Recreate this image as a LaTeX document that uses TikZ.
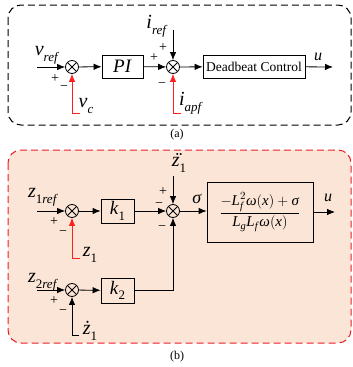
\documentclass[tikz,border=0pt]{standalone}
\usepackage{amsmath}
\usepackage{fontspec}
\setmainfont{Liberation Serif}
\usetikzlibrary{arrows.meta}
\definecolor{peach}{RGB}{251,229,214}
\definecolor{fbred}{RGB}{255,30,30}
\definecolor{bred}{RGB}{235,30,40}
\newcommand{\ti}[1]{\text{\textit{#1}}}
\newcommand{\vsub}[2]{\textit{#1}\raisebox{-0.3em}{\fontsize{13}{13}\selectfont\textit{#2}}}
\newcommand{\vsubr}[2]{\textit{#1}\raisebox{-0.3em}{\fontsize{13}{13}\selectfont #2}}
\newcommand{\zdd}{\makebox[0pt][l]{\hspace{0.12em}\textit{\char"A8}}\textit{z}}
\begin{document}
\begin{tikzpicture}[x=1pt,y=-1pt,
  sumnode/.style={circle,draw,line width=0.8pt,minimum size=13pt,inner sep=0pt,
    path picture={\draw[line width=0.8pt] (path picture bounding box.south west)--(path picture bounding box.north east)
      (path picture bounding box.north west)--(path picture bounding box.south east);}},
  blk/.style={draw,line width=0.8pt,inner sep=0pt,font=\fontsize{13.5}{16}\selectfont},
  arr/.style={-{Latex[length=8pt,width=6.5pt]},line width=0.8pt},
  fb/.style={arr,draw=fbred,color=fbred},
  sg/.style={font=\fontsize{14}{14}\selectfont,inner sep=0pt},
  vl/.style={font=\fontsize{20}{20}\selectfont,inner sep=0pt},
  captxt/.style={font=\fontsize{12}{12}\selectfont,inner sep=0pt}
]
\useasboundingbox (0,0) rectangle (353,367);
% panel (a)
\draw[line width=1pt,dash pattern=on 7pt off 4pt,rounded corners=13pt] (8,5) rectangle (351,125);
\node[captxt] (capa) at (177,135) {(a)};
\node[sumnode] (s1) at (72,67) {};
\node[sumnode] (s2) at (173,67) {};
\node[blk,minimum width=41pt,minimum height=23pt,font=\fontsize{19}{19}\selectfont] (pi) at (122.5,66.5) {\textit{PI}};
\node[blk,minimum width=102pt,minimum height=23pt] (db) at (254,66.5) {Deadbeat Control};
\coordinate (vin) at (37,67);
\coordinate (iin) at (173,30);
\coordinate (uout) at (333,67);
\coordinate (vc1) at (72,113);
\coordinate (vc2) at (80,113);
\coordinate (ia1) at (173,113);
\coordinate (ia2) at (181,113);
\draw[arr] (vin) -- (s1);
\draw[arr] (s1) -- (pi);
\draw[arr] (pi) -- (s2);
\draw[arr] (iin) -- (s2);
\draw[arr] (s2) -- (db);
\draw[arr] (db) -- (uout);
\draw[fb] (vc2) -- (vc1) -- (s1);
\draw[fb] (ia2) -- (ia1) -- (s2);
\node[vl] (lvref) at (47,55) {\vsub{v}{ref}};
\node[vl] (liref) at (157,26) {\vsub{i}{ref}};
\node[font=\fontsize{16}{16}\selectfont,inner sep=0pt] (lu) at (318,57) {\textit{u}};
\node[vl] (lvc) at (86,106) {\vsub{v}{c}};
\node[vl] (lia) at (191,103) {\vsub{i}{apf}};
\node[sg] (p1) at (55,79) {+};
\node[sg] (m1) at (64,88) {−};
\node[sg] (p2) at (154,58) {+};
\node[sg] (p3) at (163,48) {+};
\node[sg] (m2) at (162,85) {−};
% panel (b)
\draw[draw=bred,fill=peach,line width=1pt,dash pattern=on 7pt off 4pt,rounded corners=13pt] (8,150) rectangle (351,343);
\node[captxt] (capb) at (177,357) {(b)};
\node[sumnode] (s3) at (72,211) {};
\node[sumnode] (s4) at (173,211) {};
\node[sumnode] (s5) at (72,290) {};
\node[blk,minimum width=33pt,minimum height=24pt,font=\fontsize{19}{19}\selectfont] (k1) at (117.5,211) {\vsubr{k}{1}};
\node[blk,minimum width=33pt,minimum height=25pt,font=\fontsize{19}{19}\selectfont] (k2) at (117.5,290.5) {\vsubr{k}{2}};
\node[blk,minimum width=106pt,minimum height=60pt,font=\fontsize{15}{17}\selectfont] (fr) at (260,212)
  {$\dfrac{-\ti{L}_{\ti{f}}^{2}\ti{ω}(\ti{x})+\ti{σ}}{\ti{L}_{\ti{g}}\ti{L}_{\ti{f}}\ti{ω}(\ti{x})}$};
\coordinate (z1in) at (37,211);
\coordinate (z2in) at (37,290);
\coordinate (zddin) at (173,176);
\coordinate (uout2) at (335,212);
\coordinate (k2c) at (173,290.5);
\coordinate (zf1) at (72,258);
\coordinate (zf2) at (80,258);
\coordinate (zd1) at (72,335);
\coordinate (zd2) at (79,335);
\draw[arr] (z1in) -- (s3);
\draw[arr] (s3) -- (k1);
\draw[arr] (k1) -- (s4);
\draw[arr] (zddin) -- (s4);
\draw[arr] (s4) -- (s4 -| fr.west);
\draw[arr] (fr.east |- uout2) -- (uout2);
\draw[arr] (z2in) -- (s5);
\draw[arr] (s5) -- (k2);
\draw[arr] (k2) -- (k2c) -- (s4);
\draw[fb] (zf2) -- (zf1) -- (s3);
\draw[arr] (zd2) -- (zd1) -- (s5);
\node[vl] (lz1r) at (43,197) {\vsubr{z}{1\textit{ref}}};
\node[vl] (lz2r) at (43,282) {\vsubr{z}{2\textit{ref}}};
\node[vl] (lzdd) at (179,163) {\vsubr{\zdd}{1}};
\node[font=\fontsize{18}{18}\selectfont,inner sep=0pt] (lsig) at (197,199) {\textit{σ}};
\node[font=\fontsize{16}{16}\selectfont,inner sep=0pt] (lu2) at (328,198) {\textit{u}};
\node[vl] (lz1) at (90,255) {\vsubr{z}{1}};
\node[vl] (lzd) at (90,331) {\vsubr{ż}{1}};
\node[sg] (p4) at (54,222) {+};
\node[sg] (m4) at (63,233) {−};
\node[sg] (m5) at (159,205) {−};
\node[sg] (p5) at (163,192) {+};
\node[sg] (m6) at (162,228) {−};
\node[sg] (p6) at (54,301) {+};
\node[sg] (m7) at (63,312) {−};
\end{tikzpicture}
\end{document}
